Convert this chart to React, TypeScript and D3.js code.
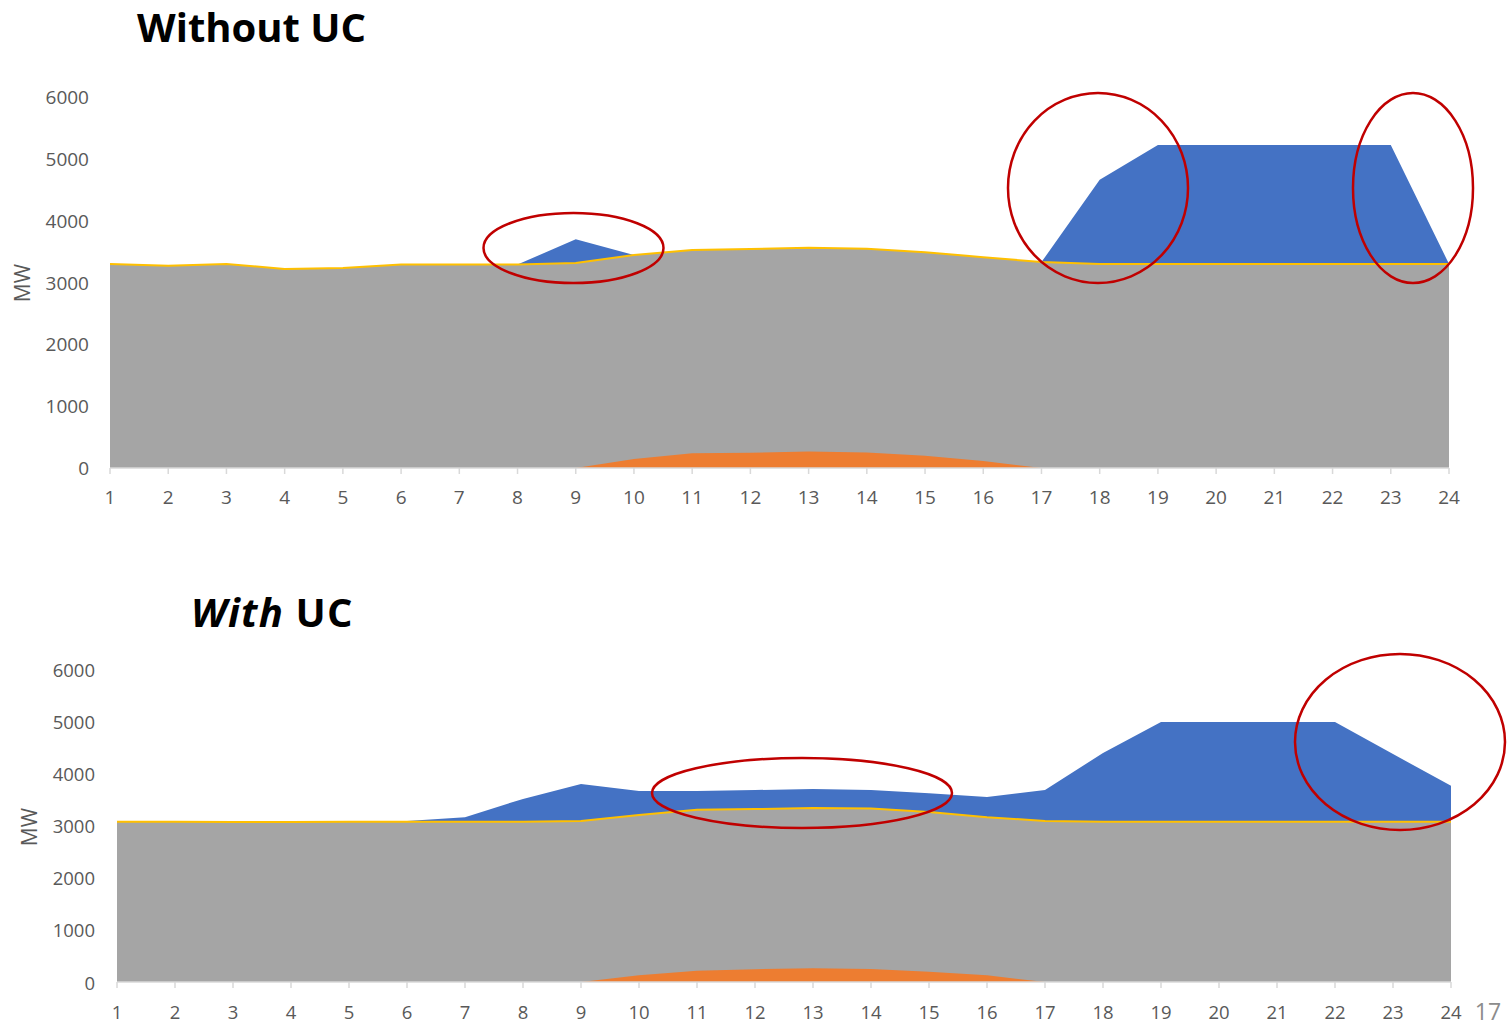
import React from "react";
import * as d3 from "d3";

const hours = [1,2,3,4,5,6,7,8,9,10,11,12,13,14,15,16,17,18,19,20,21,22,23,24];
const yTicks = [0,1000,2000,3000,4000,5000,6000];

// Without UC
const topGray = [3300,3270,3300,3220,3235,3290,3290,3290,3315,3445,3525,3540,3560,3545,3490,3410,3330,3300,3300,3300,3300,3300,3300,3300];
const topBlue = [0,0,0,0,0,0,0,0,385,0,0,0,0,0,0,0,0,1360,1925,1925,1925,1925,1925,0];
const topOrange = [0,0,0,0,0,0,0,0,0,145,240,245,265,250,200,115,0,0,0,0,0,0,0,0];

// With UC
const botGray = [3070,3070,3065,3065,3070,3070,3070,3070,3085,3200,3300,3315,3335,3325,3260,3160,3085,3070,3070,3070,3070,3070,3070,3070];
const botBlue = [0,0,0,0,15,15,90,440,710,460,360,365,365,355,360,385,595,1320,1915,1915,1915,1915,1300,690];
const botOrange = [0,0,0,0,0,0,0,0,0,130,215,245,262,250,195,128,0,0,0,0,0,0,0,0];

const GRAY = "#a5a5a5";
const BLUE = "#4472c4";
const ORANGE = "#ed7d31";
const YELLOW = "#ffc000";
const RED = "#c00000";
const FONT = "'Open Sans', 'Noto Sans', sans-serif";

type PanelProps = {
  gray: number[]; blue: number[]; orange: number[];
  x0: number; x1: number; y0: number; y1: number;
  tickSize: number; labelRight: number; xLabelY: number;
  mwX: number; mwY: number;
};

function Panel(p: PanelProps) {
  const x = d3.scaleLinear().domain([1, 24]).range([p.x0, p.x1]);
  const y = d3.scaleLinear().domain([0, 6000]).range([p.y0, p.y1]);
  const rows = hours.map((h, i) => ({ h, gray: p.gray[i], blue: p.blue[i], orange: p.orange[i] }));
  const stack = d3.stack<any>().keys(["gray", "blue"])(rows);
  const area = d3.area<any>().x((d: any) => x(d.data.h)).y0((d: any) => y(d[0])).y1((d: any) => y(d[1]));
  const orangeArea = d3.area<any>().x((d: any) => x(d.h)).y0(y(0)).y1((d: any) => y(d.orange));
  const line = d3.line<any>().x((d: any) => x(d.h)).y((d: any) => y(d.gray));
  return (
    <g>
      <path d={area(stack[1] as any) || ""} fill={BLUE} />
      <path d={area(stack[0] as any) || ""} fill={GRAY} />
      <path d={orangeArea(rows) || ""} fill={ORANGE} />
      <path d={line(rows) || ""} fill="none" stroke={YELLOW} strokeWidth={2} />
      <line x1={p.x0} x2={p.x1} y1={y(0)} y2={y(0)} stroke="#d9d9d9" strokeWidth={1.5} />
      {hours.map((h) => (
        <g key={h}>
          <line x1={x(h)} x2={x(h)} y1={y(0)} y2={y(0) + 6} stroke="#d9d9d9" strokeWidth={1.5} />
          <text x={x(h)} y={p.xLabelY} textAnchor="middle" dominantBaseline="central" fontFamily={FONT} fontSize={p.tickSize} fill="#595959">{h}</text>
        </g>
      ))}
      {yTicks.map((t) => (
        <text key={t} x={p.labelRight} y={y(t)} textAnchor="end" dominantBaseline="central" fontFamily={FONT} fontSize={p.tickSize} fill="#595959">{t}</text>
      ))}
      <text transform={`translate(${p.mwX},${p.mwY}) rotate(-90)`} textAnchor="middle" dominantBaseline="central" fontFamily={FONT} fontSize={21} fill="#595959">MW</text>
    </g>
  );
}

export default function App() {
  return (
    <svg width={1512} height={1029} style={{ position: "absolute", left: 0, top: 0, background: "#fff" }}>
      <rect width={1512} height={1029} fill="#fff" />
      <text x={137} y={42} fontFamily={FONT} fontWeight="bold" fontSize={40} fill="#000">Without UC</text>
      <text x={191} y={627} fontFamily={FONT} fontWeight="bold" fontSize={40} letterSpacing={1.2} fill="#000">
        <tspan fontStyle="italic">With</tspan> UC
      </text>
      <Panel gray={topGray} blue={topBlue} orange={topOrange} x0={110} x1={1449} y0={468} y1={97}
        tickSize={19} labelRight={89} xLabelY={497} mwX={22} mwY={283} />
      <Panel gray={botGray} blue={botBlue} orange={botOrange} x0={117} x1={1451} y0={982} y1={669}
        tickSize={18.5} labelRight={95} xLabelY={1011} mwX={29} mwY={827} />
      <g fill="none" stroke={RED} strokeWidth={2.5}>
        <ellipse cx={573.5} cy={248} rx={90} ry={35} />
        <ellipse cx={1098} cy={188} rx={90} ry={95} />
        <ellipse cx={1413} cy={188} rx={60} ry={95} />
        <ellipse cx={802} cy={793} rx={150} ry={35} />
        <ellipse cx={1400} cy={742} rx={105} ry={88} />
      </g>
      <text x={1488} y={1011} textAnchor="middle" dominantBaseline="central" fontFamily={FONT} fontSize={23} fill="#8c8c8c">17</text>
    </svg>
  );
}
